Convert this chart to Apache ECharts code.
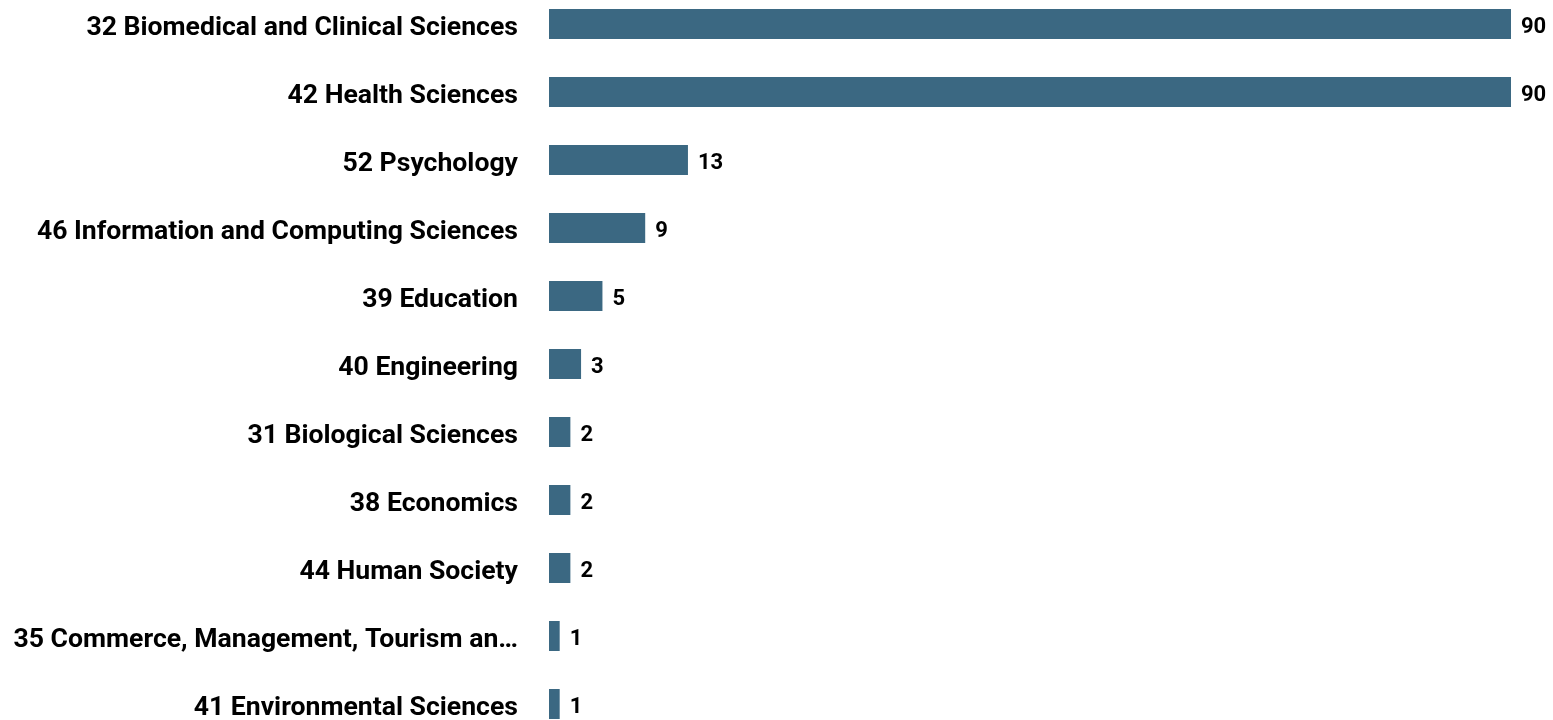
<!DOCTYPE html>
<html>
<head>
<meta charset="utf-8">
<script src="https://cdn.jsdelivr.net/npm/echarts@6/dist/echarts.min.js"></script>
<style>
  html, body { margin: 0; padding: 0; background: #fff; }
  #main { width: 1553px; height: 720px; }
</style>
</head>
<body>
<div id="main"></div>
<script>
// 类别和数值
var categories = [
    '32 Biomedical and Clinical Sciences',
    '42 Health Sciences',
    '52 Psychology',
    '46 Information and Computing Sciences',
    '39 Education',
    '40 Engineering',
    '31 Biological Sciences',
    '38 Economics',
    '44 Human Society',
    '35 Commerce, Management, Tourism and Services',
    '41 Environmental Sciences'
];
var values = [90, 90, 13, 9, 5, 3, 2, 2, 2, 1, 1];

var chartDom = document.getElementById('main');
var myChart = echarts.init(chartDom);
var option = {
    animation: false,
    grid: {
        left: 549,
        width: 962,
        top: -10,
        height: 748,
        outerBoundsMode: 'none',
        containLabel: false
    },
    xAxis: {
        type: 'value',
        min: 0,
        max: 90,
        show: false
    },
    yAxis: {
        type: 'category',
        inverse: true,
        data: categories,
        axisLine: { show: false },
        axisTick: { show: false },
        axisLabel: {
            margin: 31,
            width: 508,
            overflow: 'truncate',
            ellipsis: '…',
            verticalAlign: 'top',
            lineHeight: 8,
            fontFamily: 'Roboto',
            fontWeight: 'bold',
            fontSize: 26.6,
            color: '#000'
        }
    },
    series: [
        {
            type: 'bar',
            data: values,
            barWidth: 30,
            itemStyle: { color: '#3b6882' },
            label: {
                show: true,
                position: 'right',
                distance: 10,
                offset: [0, 3],
                fontFamily: 'Roboto',
                fontWeight: 'bold',
                fontSize: 22,
                color: '#000'
            }
        }
    ]
};
myChart.setOption(option);
</script>
</body>
</html>
